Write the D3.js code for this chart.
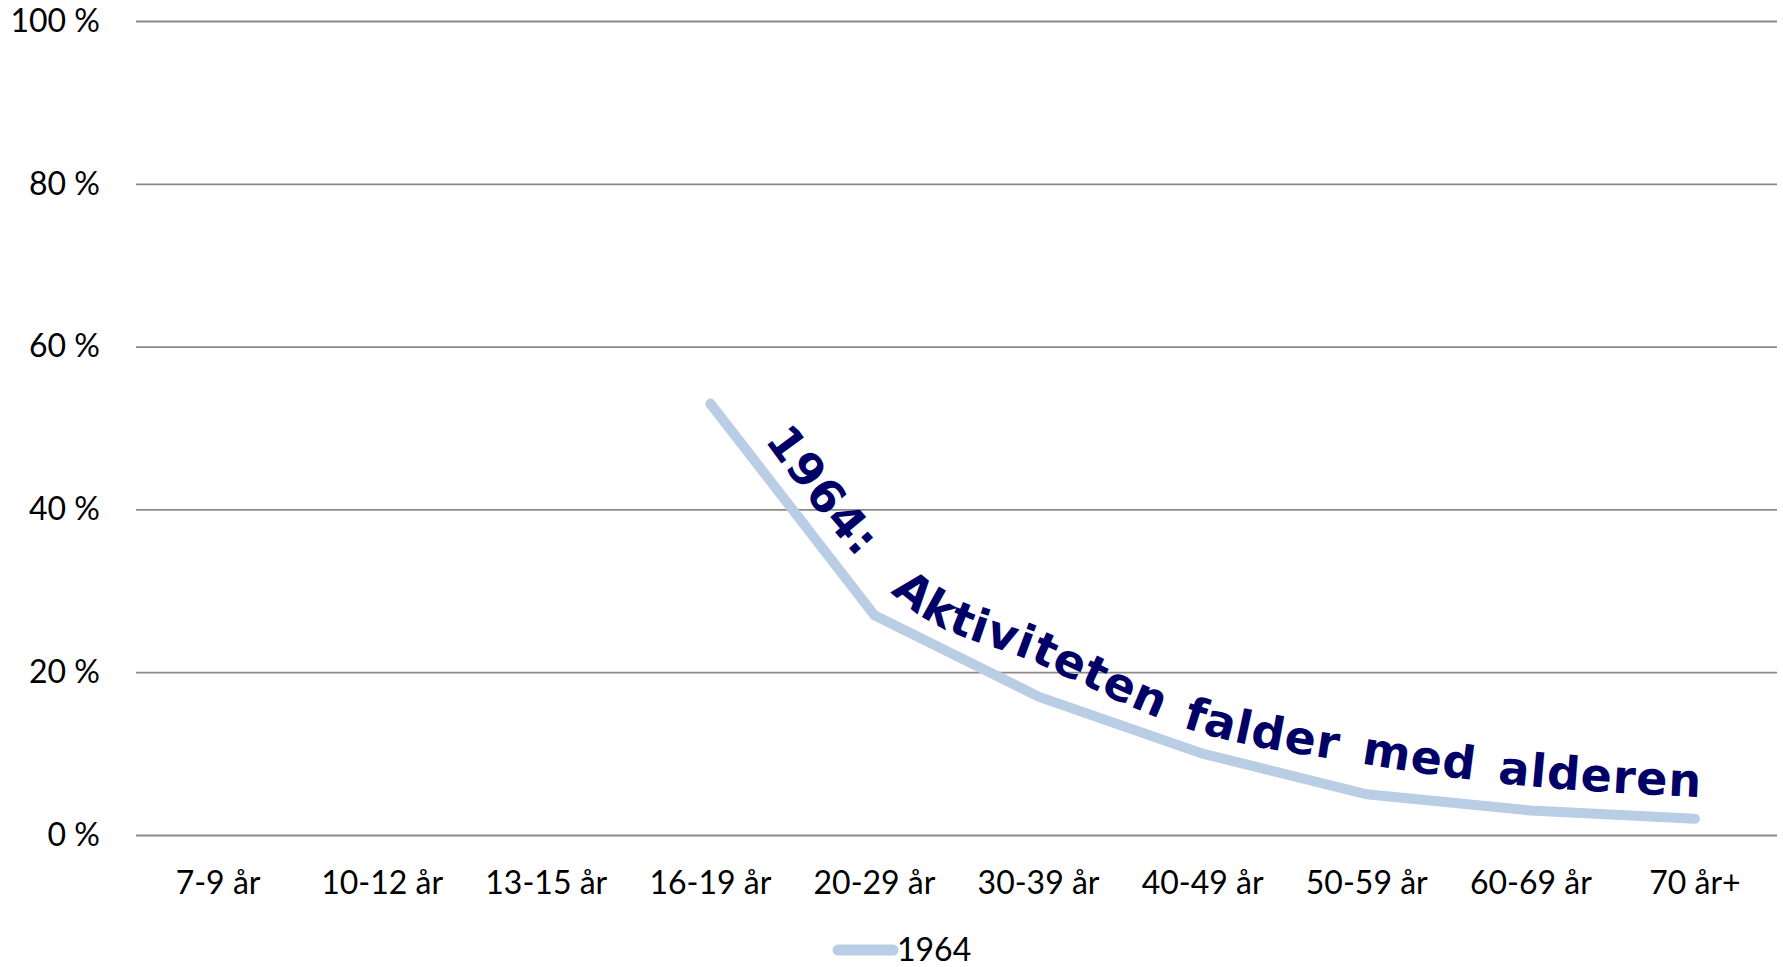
<!DOCTYPE html>
<html>
<head>
<meta charset="utf-8">
<script src="https://cdn.jsdelivr.net/npm/d3@7"></script>
<style>
  body { margin: 0; background: #fff; }
  svg text { font-family: Lato, "Open Sans", sans-serif; }
</style>
</head>
<body>
<div id="chart"></div>
<script>
// chart data
var ageGroups = ["7-9 år", "10-12 år", "13-15 år", "16-19 år", "20-29 år",
                 "30-39 år", "40-49 år", "50-59 år", "60-69 år", "70 år+"];
var values1964 = [null, null, null, 53, 27, 17, 10, 5, 3, 2];
var yTicks = [0, 20, 40, 60, 80, 100];
var seriesName = "1964";
var noteText = "1964:  Aktiviteten falder med alderen";
// the note's baseline, as [category index, percent]
var noteIdx = [3.30, 3.89, 4.14, 5.0, 5.93, 6.96, 7.8, 9.1];
var noteVal = [49.3, 34.2, 29.1, 21.0, 12.9, 8.8, 6.4, 4.6];

var svgWidth = 1783, svgHeight = 967;
var plotLeft = 136, plotRight = 1777, plotTop = 21, plotBottom = 835;

var svg = d3.select("#chart").append("svg")
    .attr("width", svgWidth)
    .attr("height", svgHeight);

var x = d3.scaleBand()
    .domain(ageGroups)
    .range([plotLeft, plotRight]);

var y = d3.scaleLinear()
    .domain([0, 100])
    .range([plotBottom, plotTop]);

// continuous index -> x, for the note path
var xi = d3.scaleLinear()
    .domain([0, ageGroups.length - 1])
    .range([x(ageGroups[0]) + x.bandwidth() / 2, x(ageGroups[ageGroups.length - 1]) + x.bandwidth() / 2]);

// gridlines + y labels
var yAxis = d3.axisLeft(y)
    .tickValues(yTicks)
    .tickSize(-(plotRight - plotLeft))
    .tickPadding(36)
    .tickFormat(d => d + " %");

var gy = svg.append("g")
    .attr("transform", `translate(${plotLeft},0)`)
    .call(yAxis);
gy.select(".domain").remove();
gy.selectAll(".tick line")
    .attr("stroke", "#8a8a8a")
    .attr("stroke-width", 1.8);
gy.selectAll(".tick text")
    .attr("fill", "#000")
    .style("font-size", "32px");

// x labels
var xAxis = d3.axisBottom(x).tickSize(0).tickPadding(36);
var gx = svg.append("g")
    .attr("transform", `translate(0,${plotBottom})`)
    .call(xAxis);
gx.select(".domain").remove();
gx.selectAll(".tick text")
    .attr("fill", "#000")
    .style("font-size", "32px");

// the series line
var rows = ageGroups.map((g, i) => ({ g: g, v: values1964[i] }));
var line = d3.line()
    .defined(d => d.v != null)
    .x(d => x(d.g) + x.bandwidth() / 2)
    .y(d => y(d.v));

svg.append("path")
    .datum(rows)
    .attr("d", line)
    .attr("fill", "none")
    .attr("stroke", "#b9cde5")
    .attr("stroke-width", 10)
    .attr("stroke-linecap", "round")
    .attr("stroke-linejoin", "miter");

// curved note along the line
var notePts = noteIdx.map((d, i) => [xi(d), y(noteVal[i])]);
svg.append("path")
    .attr("id", "notePath")
    .attr("d", d3.line().curve(d3.curveMonotoneX)(notePts))
    .attr("fill", "none")
    .attr("stroke", "none");

svg.append("text")
    .attr("fill", "#000066")
    .style("font-family", "'DejaVu Sans', Verdana, sans-serif")
    .style("font-weight", "bold")
    .style("font-size", "46px")
    .style("letter-spacing", "1px")
    .style("word-spacing", "6px")
    .style("white-space", "pre")
    .append("textPath")
    .attr("href", "#notePath")
    .attr("startOffset", 8)
    .text(noteText);

// legend
var legend = svg.append("g")
    .attr("transform", "translate(838,950)");
legend.append("line")
    .attr("x1", 0).attr("x2", 55)
    .attr("y1", 0).attr("y2", 0)
    .attr("stroke", "#b9cde5")
    .attr("stroke-width", 11)
    .attr("stroke-linecap", "round");
legend.append("text")
    .attr("x", 59)
    .attr("y", 11)
    .attr("fill", "#000")
    .style("font-size", "32px")
    .text(seriesName);
</script>
</body>
</html>
